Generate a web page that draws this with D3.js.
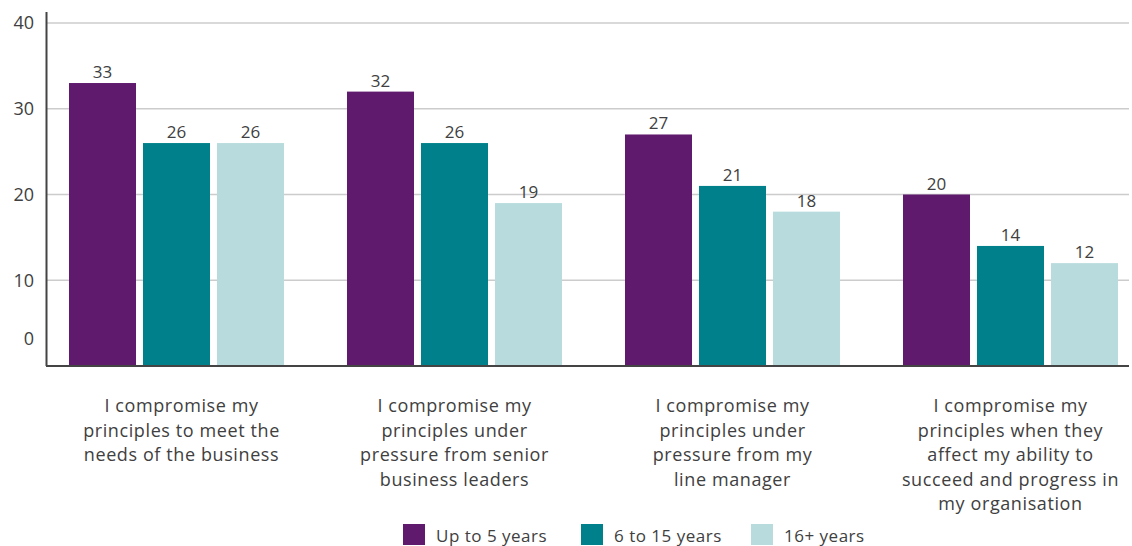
<!DOCTYPE html>
<html>
<head>
<meta charset="utf-8">
<script src="https://cdn.jsdelivr.net/npm/d3@7"></script>
<style>
  body { margin: 0; background: #fff; }
  text { font-family: "Open Sans", sans-serif; fill: #404040; }
</style>
</head>
<body>
<div class="chart"></div>
<script>
// data
var categories = [
    ["I compromise my", "principles to meet the", "needs of the business"],
    ["I compromise my", "principles under", "pressure from senior", "business leaders"],
    ["I compromise my", "principles under", "pressure from my", "line manager"],
    ["I compromise my", "principles when they", "affect my ability to", "succeed and progress in", "my organisation"]
];
var seriesNames = ["Up to 5 years", "6 to 15 years", "16+ years"];
var upTo5 = [33, 32, 27, 20];
var sixTo15 = [26, 26, 21, 14];
var sixteenPlus = [26, 19, 18, 12];
var yTicks = [0, 10, 20, 30, 40];

var colors = ["#5f1a6e", "#00808a", "#b8dcdd"];
var seriesValues = [upTo5, sixTo15, sixteenPlus];

var width = 1132,
    height = 546;

var svg = d3.select(".chart")
    .append("svg")
    .attr("width", width)
    .attr("height", height);

// scales
var y = d3.scaleLinear()
    .domain([0, 40])
    .range([366, 23]);

var x0 = d3.scaleBand()
    .domain(d3.range(categories.length))
    .range([69, 1118])
    .paddingInner(63 / 278)
    .paddingOuter(0);

var x1 = d3.scaleBand()
    .domain(d3.range(seriesNames.length))
    .range([0, x0.bandwidth()])
    .paddingInner(7 / 74)
    .paddingOuter(0);

// gridlines
svg.append("g")
    .selectAll("line")
    .data(yTicks.filter(function (d) { return d > 0; }))
    .enter().append("line")
    .attr("x1", 47)
    .attr("x2", 1129)
    .attr("y1", function (d) { return y(d); })
    .attr("y2", function (d) { return y(d); })
    .style("stroke", "#cccccc")
    .style("stroke-width", 1.5);

// y axis labels
var yAxis = svg.append("g")
    .attr("transform", "translate(47,0)")
    .call(d3.axisLeft(y).tickValues(yTicks).tickSize(0).tickPadding(13));
yAxis.select(".domain").remove();
yAxis.selectAll("text")
    .style("font-size", "18px")
    .style("fill", "#404040")
    .style("font-family", "'Open Sans', sans-serif")
    .attr("dy", function (d) { return d === 0 ? "-1.2em" : "0.32em"; });

// bars
var groups = svg.append("g")
    .selectAll("g")
    .data(categories)
    .enter().append("g")
    .attr("transform", function (d, i) { return "translate(" + x0(i) + ",0)"; });

groups.selectAll("rect")
    .data(function (d, i) {
        return seriesValues.map(function (s, j) { return { s: j, value: s[i] }; });
    })
    .enter().append("rect")
    .attr("x", function (d) { return x1(d.s); })
    .attr("width", x1.bandwidth())
    .attr("y", function (d) { return y(d.value); })
    .attr("height", function (d) { return y(0) - y(d.value); })
    .style("fill", function (d) { return colors[d.s]; });

groups.selectAll(".val")
    .data(function (d, i) {
        return seriesValues.map(function (s, j) { return { s: j, value: s[i] }; });
    })
    .enter().append("text")
    .attr("class", "val")
    .attr("x", function (d) { return x1(d.s) + x1.bandwidth() / 2; })
    .attr("y", function (d) { return y(d.value) - 5; })
    .attr("text-anchor", "middle")
    .style("font-size", "17px")
    .text(function (d) { return d.value; });

// axis lines
svg.append("line")
    .attr("x1", 46.5).attr("x2", 46.5)
    .attr("y1", 12).attr("y2", 366)
    .style("stroke", "#444")
    .style("stroke-width", 2);
svg.append("line")
    .attr("x1", 46).attr("x2", 1129)
    .attr("y1", 366).attr("y2", 366)
    .style("stroke", "#444")
    .style("stroke-width", 2);

// category labels
var labels = svg.append("g")
    .selectAll("text")
    .data(categories)
    .enter().append("text")
    .attr("text-anchor", "middle")
    .attr("transform", function (d, i) {
        return "translate(" + (x0(i) + x0.bandwidth() / 2 + (i === 0 ? 5 : 0)) + ",412)";
    })
    .style("font-size", "18px")
    .style("letter-spacing", "0.6px");

labels.selectAll("tspan")
    .data(function (d) { return d; })
    .enter().append("tspan")
    .attr("x", 0)
    .attr("y", function (d, i) { return i * 24.6; })
    .text(function (d) { return d; });

// legend
var legendX = [403, 581, 751];
var legend = svg.append("g")
    .selectAll("g")
    .data(seriesNames)
    .enter().append("g")
    .attr("transform", function (d, i) { return "translate(" + legendX[i] + ",524)"; });

legend.append("rect")
    .attr("width", 22)
    .attr("height", 21)
    .style("fill", function (d, i) { return colors[i]; });

legend.append("text")
    .attr("x", 33)
    .attr("y", 18)
    .style("font-size", "17px")
    .style("letter-spacing", "0.5px")
    .text(function (d) { return d; });
</script>
</body>
</html>
